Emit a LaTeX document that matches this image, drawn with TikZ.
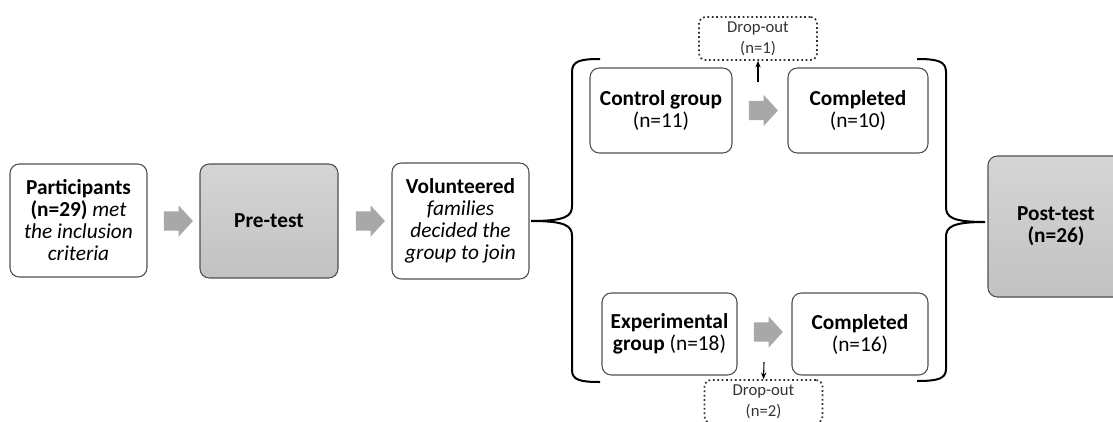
\documentclass[tikz,border=0pt]{standalone}
\usepackage{fontspec}
\setmainfont{Carlito}
\usetikzlibrary{shapes.arrows,arrows.meta}

\definecolor{boxline}{HTML}{505050}
\definecolor{dropline}{HTML}{303030}
\definecolor{blockgray}{HTML}{A8A8A8}

\tikzset{
  box/.style={draw=boxline, line width=0.8pt, rounded corners=7pt, align=center,
    inner sep=2pt, font=\fontsize{16}{16.5}\selectfont},
  testbox/.style={box, top color=gray!33, bottom color=gray!48},
  dropbox/.style={draw=dropline, line width=1.3pt, dotted, rounded corners=5pt,
    align=center, inner sep=1pt, text=black!80,
    font=\fontsize{12.5}{16}\selectfont,
    minimum width=88.5pt, minimum height=32.25pt},
  blockarrow/.style={single arrow, fill=blockgray, draw=none, inner xsep=0pt,
    inner ysep=7pt, minimum height=21.75pt, single arrow head extend=4.5pt,
    single arrow tip angle=95},
  brace/.style={line width=1.5pt}
}

\begin{document}
\begin{tikzpicture}[x=0.75pt,y=-0.75pt]
        \clip (0,0) rectangle (1113,421);

        % boxes
        \node[box, minimum width=102.75pt, minimum height=84.75pt] (1) at (78.5,220.5)
          {\textbf{Participants}\\\textbf{(n=29)} \textit{met}\\\textit{the inclusion}\\\textit{criteria}};
        \node[testbox, minimum width=103.5pt, minimum height=85.5pt] (2) at (269,221)
          {\textbf{Pre-test}};
        \node[box, minimum width=102.75pt, minimum height=87pt] (3) at (460.5,221)
          {\textbf{Volunteered}\\\textit{families}\\\textit{decided the}\\\textit{group to join}};
        \node[box, minimum width=106.5pt, minimum height=63.75pt] (4) at (661,110.5)
          {\textbf{Control group}\\(n=11)};
        \node[box, minimum width=105pt, minimum height=63.75pt] (5) at (858,110.5)
          {\textbf{Completed}\\(n=10)};
        \node[box, minimum width=101.25pt, minimum height=61.5pt] (6) at (669.5,334)
          {\textbf{Experimental}\\\textbf{group} (n=18)};
        \node[box, minimum width=102pt, minimum height=61.5pt] (7) at (860,334)
          {\textbf{Completed}\\(n=16)};
        \node[testbox, minimum width=102pt, minimum height=105.75pt] (8) at (1056,226.5)
          {\textbf{Post-test}\\\textbf{(n=26)}};

        % drop-outs
        \node[dropbox] (9)  at (758,38.5)  {Drop-out\\(n=1)};
        \node[dropbox] (10) at (763.5,401.5) {Drop-out\\(n=2)};

        % block arrows
        \begin{scope}[every node/.style={blockarrow}]
          \node (a1) at (174,221) {};
          \node (a2) at (366,221) {};
          \node (a3) at (759,110.5) {};
          \node (a4) at (764,332) {};
        \end{scope}

        \coordinate (d1) at (758,82);
        \coordinate (d2) at (764,362);
        \draw[-{Stealth[length=5pt,width=4pt]}, line width=0.8pt] (d1) -- (9.south);
        \draw[-{Stealth[length=5pt,width=4pt]}, line width=0.8pt] (d2) -- (10.north);

        % braces
        \coordinate (t1) at (531,221);
        \coordinate (t2) at (985,222);
        \draw[brace] (600,59) .. controls (580,59) and (572,61) .. (572,72) -- (572,206)
          .. controls (572,216) and (566,221) .. (t1)
          .. controls (566,221) and (572,226) .. (572,236) -- (572,370)
          .. controls (572,380) and (580,382) .. (600,382);
        \draw[brace] (917,59) .. controls (937,59) and (946,61) .. (946,72) -- (946,207)
          .. controls (946,217) and (952,222) .. (t2)
          .. controls (952,222) and (946,227) .. (946,237) -- (946,369)
          .. controls (946,379) and (937,381) .. (917,381);

      \end{tikzpicture}
\end{document}
